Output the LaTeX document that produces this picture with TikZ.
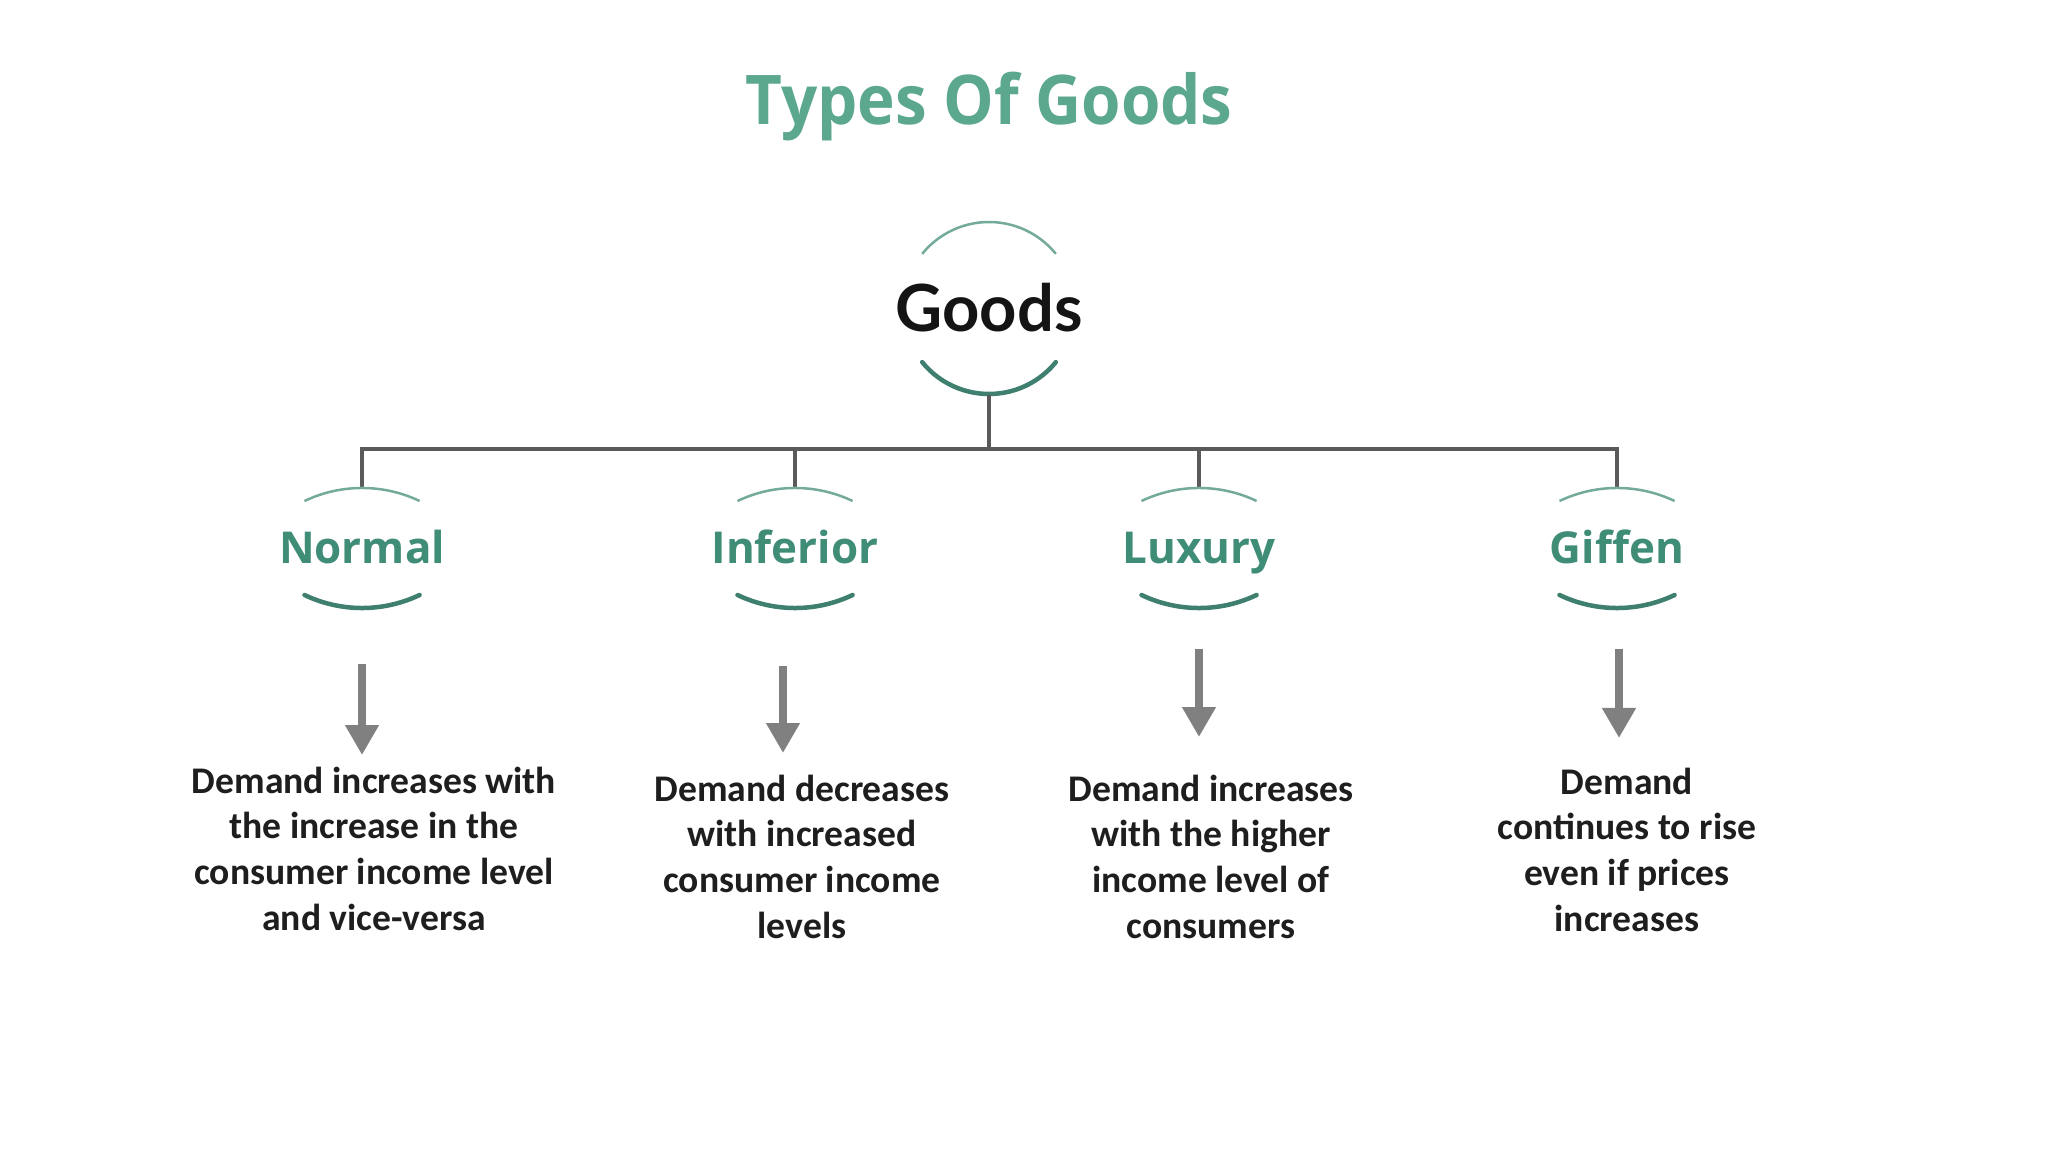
\documentclass[tikz,border=0pt]{standalone}
\usepackage{fontspec}
\setmainfont{Open Sans}
\newfontfamily\titlefont[FakeStretch=0.93]{Open Sans}
\newfontfamily\goodsfont{Lato}
\newfontfamily\descfont{Carlito}
\usetikzlibrary{arrows.meta,calc}

\definecolor{titlegreen}{HTML}{5BA88E}
\definecolor{labelgreen}{HTML}{3F8C77}
\definecolor{arclight}{HTML}{74AA9B}
\definecolor{arcdark}{HTML}{3E7F6F}
\definecolor{treegray}{HTML}{5A5A5A}
\definecolor{arrowgray}{HTML}{808080}
\definecolor{desctext}{HTML}{1E1E1E}

\tikzset{
  goodsnode/.style={rectangle,inner sep=0pt,minimum height=1.72cm,text=black!92,
    font=\goodsfont\bfseries\fontsize{18.5}{22}\selectfont,text height=13.3pt,text depth=0pt},
  typenode/.style={rectangle,inner sep=0pt,minimum height=1.2cm,text=labelgreen,
    font=\bfseries\fontsize{12.5}{15}\selectfont,text height=8.9pt,text depth=0pt},
  desc/.style={align=center,inner sep=0pt,anchor=north,text=desctext,
    font=\descfont\bfseries\fontsize{10.7}{13}\selectfont},
  tree/.style={draw=treegray,line width=0.35mm},
  arcthin/.style={draw=arclight,line width=0.25mm},
  arcthick/.style={draw=arcdark,line width=0.45mm,line cap=round},
  downarrow/.style={draw=arrowgray,line width=0.8mm,-{Triangle[width=3.2mm,length=3mm]}}
}

\begin{document}
\begin{tikzpicture}
\fill[white] (0,0) rectangle (20.48,-11.52);
\useasboundingbox (0,0) rectangle (20.48,-11.52);

% title and root
\node (title) [anchor=base,text=titlegreen,font=\titlefont\bfseries\fontsize{19.5}{24}\selectfont]
  at (9.89,-1.25) {Types Of Goods};
\node (goods) [goodsnode] at (9.89,-3.08) {Goods};
\draw[arcthin] ([shift={(141:0.86)}]goods.center) arc[start angle=141,end angle=39,radius=0.86];
\draw[arcthick] ([shift={(-141:0.86)}]goods.center) arc[start angle=-141,end angle=-39,radius=0.86];

% the four kinds
\node (normal)   [typenode] at (3.62,-5.48)  {Normal};
\node (inferior) [typenode] at (7.95,-5.48)  {Inferior};
\node (luxury)   [typenode] at (11.99,-5.48) {Luxury};
\node (giffen)   [typenode] at (16.17,-5.48) {Giffen};

\coordinate (bus) at (9.89,-4.49);
\draw[tree] (goods.south) -- (bus);
\foreach \n in {normal,inferior,luxury,giffen}{
  \draw[tree] (bus) -| (\n.north);
  \draw[arcthin] ([shift={(-0.575,0.47)}]\n.center) arc[start angle=115.5,end angle=64.5,radius=1.337];
  \draw[arcthick] ([shift={(-0.575,-0.47)}]\n.center) arc[start angle=244.5,end angle=295.5,radius=1.337];
}

% descriptions
\node (ndesc) [desc] at (3.74,-7.66)  {Demand increases with\\the increase in the\\consumer income level\\and vice-versa};
\node (idesc) [desc] at (8.02,-7.74)  {Demand decreases\\with increased\\consumer income\\levels};
\node (ldesc) [desc] at (12.11,-7.74) {Demand increases\\with the higher\\income level of\\consumers};
\node (gdesc) [desc] at (16.27,-7.67) {Demand\\continues to rise\\even if prices\\increases};

\foreach \n/\d/\dx/\s/\e in {normal/ndesc/0/5.5/1.1,inferior/idesc/-1.2/5.7/2.1,
                             luxury/ldesc/0/4/3.7,giffen/gdesc/0.2/4/2.9}
  \draw[downarrow,shorten <=\s mm,shorten >=\e mm]
    ($(\n.south)+(\dx mm,0)$) -- ($(\n.south |- \d.north)+(\dx mm,0)$);
\end{tikzpicture}
\end{document}
